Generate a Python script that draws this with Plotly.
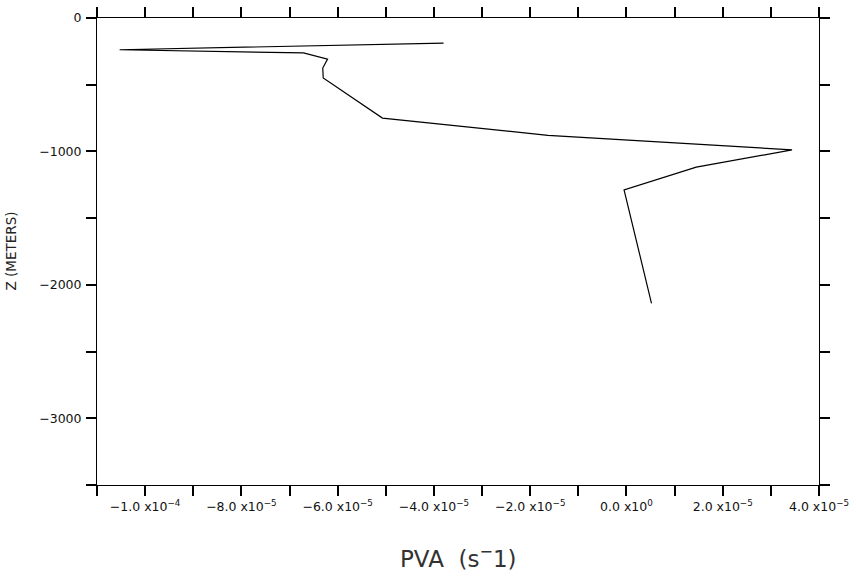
import plotly.graph_objects as go

# Data
pva = [-3.80e-5, -1.053e-4, -6.71e-5, -6.21e-5, -6.31e-5, -6.30e-5,
       -5.07e-5, -1.63e-5, 3.44e-5, 1.45e-5, -5.0e-7, 5.2e-6]
z = [-188, -238, -262, -308, -375, -450, -750, -880, -988, -1118, -1288, -2138]

x_tickvals = [-1.1e-4, -1.0e-4, -9e-5, -8e-5, -7e-5, -6e-5, -5e-5, -4e-5, -3e-5,
              -2e-5, -1e-5, 0.0, 1e-5, 2e-5, 3e-5, 4e-5]
x_ticktext = ["", "−1.0 x10<sup>−4</sup>", "", "−8.0 x10<sup>−5</sup>", "",
              "−6.0 x10<sup>−5</sup>", "", "−4.0 x10<sup>−5</sup>", "",
              "−2.0 x10<sup>−5</sup>", "", "0.0 x10<sup>0</sup>", "",
              "2.0 x10<sup>−5</sup>", "", "4.0 x10<sup>−5</sup>"]
y_tickvals = [0, -500, -1000, -1500, -2000, -2500, -3000, -3500]
y_ticktext = ["0", "", "−1000", "", "−2000", "", "−3000", ""]

FONT = "DejaVu Sans, Verdana, sans-serif"

fig = go.Figure()
fig.add_trace(go.Scatter(x=pva, y=z, mode="lines",
                         line=dict(color="black", width=1.2),
                         showlegend=False, hoverinfo="skip"))

fig.update_layout(
    width=856, height=582,
    margin=dict(l=97, r=37, t=18, b=97),
    paper_bgcolor="white", plot_bgcolor="white",
    font=dict(family=FONT, color="#111", size=11),
    annotations=[
        dict(text="Z (METERS)", textangle=-90, xref="paper", yref="paper",
             x=(10 - 97) / 722, y=0.5, xanchor="center", yanchor="middle",
             showarrow=False, font=dict(family=FONT, size=13.5, color="#222")),
        dict(text="PVA  (s<sup>−</sup>1)", xref="paper", yref="paper",
             x=0.5, y=(485 - 557) / 467, xanchor="center", yanchor="middle",
             showarrow=False, font=dict(family=FONT, size=23, color="#333")),
    ],
)
fig.update_xaxes(
    range=[-1.1e-4, 4.0e-5], tickmode="array", tickvals=x_tickvals, ticktext=x_ticktext,
    ticks="outside", ticklen=10, tickwidth=1.5, tickcolor="black",
    showline=True, linecolor="black", linewidth=1, mirror="ticks",
    showgrid=False, zeroline=False, automargin=False,
    tickfont=dict(family=FONT, size=12.5),
)
fig.update_yaxes(
    range=[-3500, 0], tickmode="array", tickvals=y_tickvals, ticktext=y_ticktext,
    ticks="outside", ticklen=10, tickwidth=1.5, tickcolor="black",
    showline=True, linecolor="black", linewidth=1, mirror="ticks",
    showgrid=False, zeroline=False, automargin=False,
    tickfont=dict(family=FONT, size=12.5), ticklabelstandoff=2,
)

fig.write_html("out.html")
